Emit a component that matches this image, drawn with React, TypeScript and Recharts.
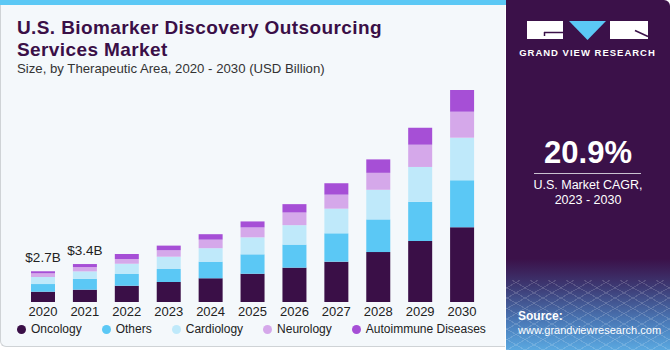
import { BarChart, Bar, XAxis, YAxis, LabelList } from 'recharts';

const years = ['2020', '2021', '2022', '2023', '2024', '2025', '2026', '2027', '2028', '2029', '2030'];
const oncology = [0.91, 1.09, 1.44, 1.77, 2.1, 2.5, 3.04, 3.57, 4.42, 5.4, 6.61];
const others = [0.68, 0.97, 1.04, 1.15, 1.47, 1.72, 2.04, 2.51, 2.89, 3.48, 4.16];
const cardiology = [0.62, 0.65, 0.91, 1.09, 1.19, 1.5, 1.72, 2.18, 2.62, 3.07, 3.77];
const neurology = [0.33, 0.38, 0.42, 0.57, 0.76, 0.88, 1.12, 1.24, 1.5, 1.97, 2.3];
const autoimmune = [0.18, 0.27, 0.44, 0.41, 0.48, 0.53, 0.74, 1.01, 1.19, 1.5, 1.92];
const totalLabels = ['$2.7B', '$3.4B', '', '', '', '', '', '', '', '', ''];

const series = [
  { key: 'oncology', name: 'Oncology', color: '#3a0f47', values: oncology },
  { key: 'others', name: 'Others', color: '#5bc8f5', values: others },
  { key: 'cardiology', name: 'Cardiology', color: '#bfe9fa', values: cardiology },
  { key: 'neurology', name: 'Neurology', color: '#d5a8ea', values: neurology },
  { key: 'autoimmune', name: 'Autoimmune Diseases', color: '#a64fd6', values: autoimmune },
];

const data = years.map((year, i) => {
  const row: Record<string, any> = { year };
  series.forEach((s) => {
    row[s.key] = s.values[i];
  });
  return row;
});

const font = '"Liberation Sans", Arial, sans-serif';

const TotalLabel = (props: any) => {
  const { x, y, width, index } = props;
  const text = totalLabels[index];
  if (!text) return null;
  return (
    <text x={x + width / 2} y={y - 9} textAnchor="middle" fill="#222" fontSize={13.5} fontFamily={font}>
      {text}
    </text>
  );
};

const titleStyle = {
  position: 'absolute' as const, left: 17, color: '#3a0f47', fontWeight: 'bold',
  fontSize: 19, lineHeight: '19px', letterSpacing: 0.4,
};

export default function App() {
  return (
    <div style={{ position: 'absolute', left: 0, top: 0, width: 670, height: 350, fontFamily: font, overflow: 'hidden', background: '#ffffff' }}>
      {/* left panel */}
      <div
        style={{
          position: 'absolute', left: 0, top: 0, width: 505, height: 347,
          background: '#f4f8fb', borderLeft: '1px solid #cfd3d6', borderBottom: '1px solid #cfd3d6',
          borderBottomLeftRadius: 6, boxSizing: 'border-box',
        }}
      />
      <div style={{ position: 'absolute', left: 0, top: 0, width: 506, height: 5, background: '#5bc8f5' }} />

      <div style={{ ...titleStyle, top: 18 }}>U.S. Biomarker Discovery Outsourcing</div>
      <div style={{ ...titleStyle, top: 40 }}>Services Market</div>
      <div style={{ position: 'absolute', left: 17, top: 61, color: '#333', fontSize: 13.2 }}>
        Size, by Therapeutic Area, 2020 - 2030 (USD Billion)
      </div>

      <div style={{ position: 'absolute', left: 0, top: 0 }}>
        <BarChart width={506} height={350} data={data} margin={{ top: 76, right: 23, left: 22, bottom: 28 }} barSize={24}>
          <XAxis
            dataKey="year"
            axisLine={false}
            tickLine={false}
            tickSize={3}
            height={20}
            interval={0}
            tick={{ fill: '#222', fontSize: 13, fontFamily: font }}
          />
          <YAxis hide domain={[0, 20]} />
          {series.map((s, i) => (
            <Bar key={s.key} dataKey={s.key} name={s.name} stackId="a" fill={s.color} isAnimationActive={false}>
              {i === series.length - 1 && <LabelList dataKey={s.key} content={TotalLabel} />}
            </Bar>
          ))}
        </BarChart>
      </div>

      {/* legend */}
      <div style={{ position: 'absolute', left: 17, top: 322, display: 'flex', gap: 20, alignItems: 'center', fontSize: 12, color: '#222' }}>
        {series.map((s) => (
          <div key={s.key} style={{ display: 'flex', alignItems: 'center' }}>
            <span style={{ width: 9, height: 9, borderRadius: '50%', background: s.color, display: 'inline-block', marginRight: 5 }} />
            <span>{s.name}</span>
          </div>
        ))}
      </div>

      {/* right panel */}
      <div
        style={{
          position: 'absolute', left: 506, top: 0, width: 164, height: 350,
          background: 'linear-gradient(180deg, #3b1149 0%, #3b1149 74%, #3d3a74 82%, #4a7ab8 92%, #5aa8e0 100%)',
          borderTopRightRadius: 6,
        }}
      />
      <div
        style={{
          position: 'absolute', left: 506, top: 280, width: 164, height: 70, opacity: 0.25,
          backgroundImage:
            'repeating-linear-gradient(30deg, rgba(255,255,255,0.6) 0 1px, transparent 1px 9px), repeating-linear-gradient(-30deg, rgba(255,255,255,0.6) 0 1px, transparent 1px 9px)',
        }}
      />

      {/* logo */}
      <svg style={{ position: 'absolute', left: 506, top: 0 }} width={164} height={70}>
        <rect x={21} y={21} width={36} height={18} fill="#ffffff" />
        <line x1={38} y1={32.5} x2={57} y2={32.5} stroke="#3b1149" strokeWidth={1.5} />
        <line x1={38.5} y1={32} x2={38.5} y2={36} stroke="#3b1149" strokeWidth={1.5} />
        <polygon points="63,21 100,21 81.5,40" fill="#5bc8f5" />
        <rect x={104} y={21} width={38} height={18} fill="#ffffff" />
        <line x1={129} y1={30.5} x2={142} y2={36.5} stroke="#3b1149" strokeWidth={1.5} />
        <text x={81.5} y={55.5} textAnchor="middle" fill="#ffffff" fontSize={9.5} fontWeight="bold" fontFamily={font} letterSpacing={1}>
          GRAND VIEW RESEARCH
        </text>
      </svg>

      <div style={{ position: 'absolute', left: 506, top: 135, width: 164, textAlign: 'center', color: '#fff', fontWeight: 'bold', fontSize: 31, lineHeight: '35px' }}>
        20.9%
      </div>
      <div style={{ position: 'absolute', left: 534, top: 173, width: 107, height: 1, background: '#c9c2d0' }} />
      <div style={{ position: 'absolute', left: 506, top: 178, width: 164, textAlign: 'center', color: '#fff', fontSize: 12.5, lineHeight: '15px' }}>
        U.S. Market CAGR,<br />2023 - 2030
      </div>

      <div style={{ position: 'absolute', left: 518, top: 309, color: '#fff', fontSize: 11, lineHeight: '14px' }}>
        <div style={{ fontWeight: 'bold', fontSize: 12 }}>Source:</div>
        <div>www.grandviewresearch.com</div>
      </div>
    </div>
  );
}
